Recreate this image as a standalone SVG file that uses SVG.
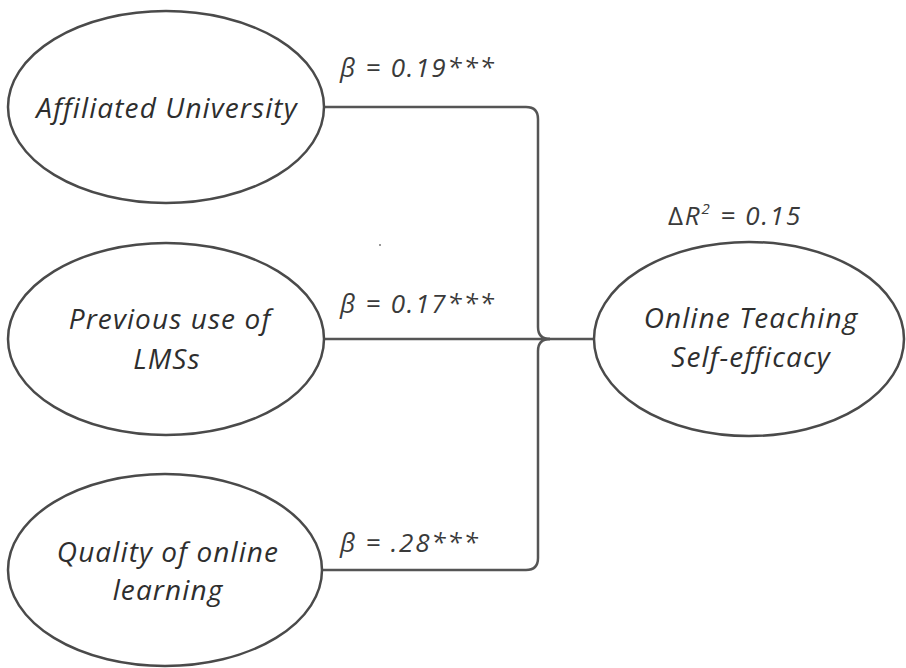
<svg xmlns="http://www.w3.org/2000/svg" width="906" height="668" viewBox="0 0 906 668">
<style>
.node ellipse{fill:#fff;stroke:#4a4a4a;stroke-width:2.5}
.t{font-family:"Open Sans","DejaVu Sans",sans-serif;font-style:italic;font-size:28px;letter-spacing:1.1px;fill:#2e2e2e;text-anchor:middle}
.lbl{font-family:"Open Sans","DejaVu Sans",sans-serif;font-style:italic;font-size:26px;letter-spacing:1.8px;fill:#3a3a3a}
.conn path{fill:none;stroke:#555;stroke-width:2.5}
</style>
<rect width="906" height="668" fill="#fff"/>
<g class="conn" id="connectors">
<path d="M323,107 H526 Q538,107 538,119 V327 Q538,339 550,339"/>
<path d="M325,339 H594"/>
<path d="M322,570 H526 Q538,570 538,558 V351 Q538,339 550,339"/>
</g>
<g class="node" id="n-affiliated">
<ellipse cx="166" cy="107" rx="158" ry="96"/>
<text class="t" x="167" y="118">Affiliated University</text>
</g>
<g class="node" id="n-previous">
<ellipse cx="166" cy="339" rx="158" ry="96"/>
<text class="t" x="170" y="329">Previous use of</text>
<text class="t" x="167" y="369">LMSs</text>
</g>
<g class="node" id="n-quality">
<ellipse cx="165" cy="570" rx="157" ry="96"/>
<text class="t" x="168" y="562">Quality of online</text>
<text class="t" x="168" y="600">learning</text>
</g>
<g class="node" id="n-ote">
<ellipse cx="749" cy="339" rx="155" ry="97"/>
<text class="t" x="751" y="328">Online Teaching</text>
<text class="t" x="751" y="367">Self-efficacy</text>
</g>
<g id="labels">
<text class="lbl" x="340" y="77">β = 0.19***</text>
<text class="lbl" x="340" y="313">β = 0.17***</text>
<text class="lbl" x="340" y="552">β = .28***</text>
<text class="lbl" x="668" y="225"><tspan font-style="normal">Δ</tspan>R<tspan font-size="15" dy="-11">2</tspan><tspan dy="11"> = 0.15</tspan></text>
</g>
<circle cx="380" cy="245" r="1" fill="#777"/>
</svg>
